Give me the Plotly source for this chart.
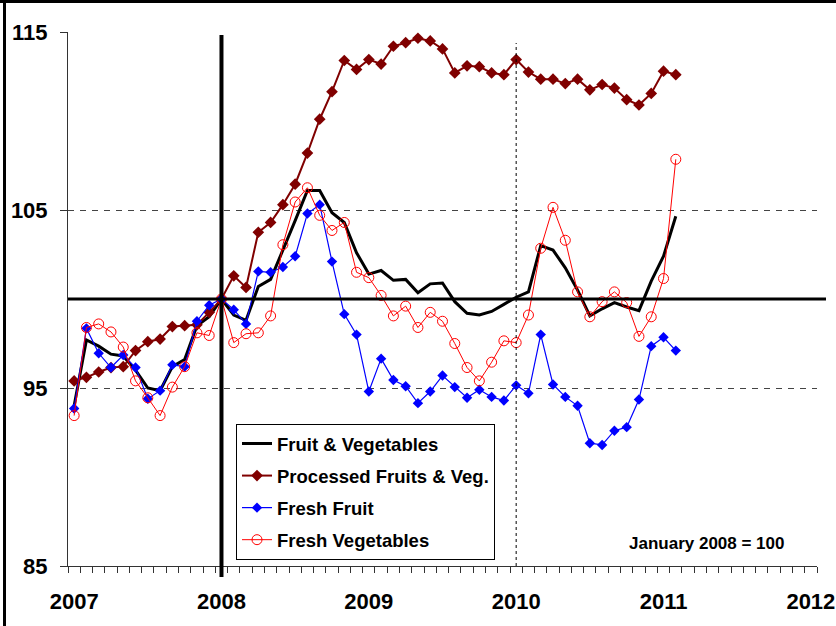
import plotly.graph_objects as go
import numpy as np

# ---- data (monthly, Jan 2007 .. Feb 2011; January 2008 = 100) ----
start_year = 2007
fruit_veg = [94.0, 97.7, 97.35, 96.9, 96.8, 96.0, 95.0, 94.85, 96.2, 96.6, 98.5, 99.0,
             100.0, 99.1, 98.8, 100.7, 101.1, 102.7, 104.4, 106.1, 106.1, 104.85, 104.3, 102.6,
             101.4, 101.6, 101.05, 101.1, 100.35, 100.85, 100.9, 99.85, 99.2, 99.1, 99.3, 99.7,
             100.1, 100.4, 103.0, 102.75, 101.75, 100.5, 99.05, 99.45, 99.8, 99.55, 99.35, 101.0,
             102.4, 104.65]
processed = [95.4, 95.6, 95.9, 96.15, 96.2, 97.1, 97.6, 97.75, 98.45, 98.5, 98.55, 99.25,
             100.0, 101.3, 100.65, 103.75, 104.3, 105.3, 106.45, 108.2, 110.1, 111.65, 113.4, 112.9,
             113.45, 113.2, 114.2, 114.4, 114.65, 114.5, 114.05, 112.7, 113.1, 113.05, 112.7, 112.6,
             113.45, 112.75, 112.35, 112.35, 112.1, 112.35, 111.75, 112.05, 111.85, 111.2, 110.9, 111.55,
             112.8, 112.6]
fresh_fruit = [93.85, 98.35, 96.95, 96.15, 96.85, 96.15, 94.4, 94.85, 96.3, 96.2, 98.75, 99.65,
               100.0, 99.4, 98.6, 101.55, 101.5, 101.8, 102.4, 104.8, 105.3, 102.1, 99.15, 98.0,
               94.8, 96.65, 95.45, 95.1, 94.15, 94.8, 95.7, 95.05, 94.45, 94.9, 94.5, 94.3,
               95.15, 94.7, 98.0, 95.2, 94.5, 94.0, 91.9, 91.8, 92.6, 92.8, 94.35, 97.35,
               97.85, 97.1]
fresh_veg = [93.45, 98.4, 98.6, 98.15, 97.3, 95.4, 94.45, 93.45, 95.05, 96.2, 98.1, 97.95,
             100.0, 97.55, 98.05, 98.1, 99.05, 103.05, 105.45, 106.25, 104.7, 103.85, 104.3, 101.5,
             101.2, 100.2, 99.05, 99.6, 98.4, 99.25, 98.75, 97.5, 96.15, 95.4, 96.45, 97.65,
             97.55, 99.1, 102.85, 105.15, 103.3, 100.4, 99.0, 99.85, 100.4, 99.8, 97.9, 99.0,
             101.15, 107.85]
year_ticks = [2007, 2008, 2009, 2010, 2011, 2012]
y_ticks = [85, 95, 105, 115]

x = [start_year + i / 12 for i in range(len(fruit_veg))]

W, H = 836, 626
ML, MR, MT, MB = 68, 19, 32, 60
PW, PH = W - ML - MR, H - MT - MB


def pxx(px):
    return (px - ML) / PW


def pxy(py):
    return (H - MB - py) / PH


FONT = "Liberation Sans, Arial, sans-serif"

fig = go.Figure()
fig.add_trace(go.Scatter(x=x, y=fruit_veg, mode="lines", name="Fruit & Vegetables",
                         line=dict(color="black", width=3), legendgroup="a"))
fig.add_trace(go.Scatter(x=x, y=processed, mode="lines+markers", name="Processed Fruits & Veg.",
                         line=dict(color="#800000", width=2),
                         marker=dict(symbol="diamond", size=9, color="#800000"), legendgroup="b"))
fig.add_trace(go.Scatter(x=x, y=fresh_fruit, mode="lines+markers", name="Fresh Fruit",
                         line=dict(color="#0000FF", width=1.2),
                         marker=dict(symbol="diamond", size=8, color="#0000FF"), legendgroup="c"))
fig.add_trace(go.Scatter(x=x, y=fresh_veg, mode="lines+markers", name="Fresh Vegetables",
                         line=dict(color="#FF0000", width=1),
                         marker=dict(symbol="circle-open", size=10, color="#FF0000",
                                     line=dict(width=1, color="#FF0000")), legendgroup="d"))

half = 0.5 / 12
minor_vals = list(np.arange(61 + 1) / 12 + 2007 - half)

fig.update_xaxes(range=[2007 - half, 2012 + half], tickmode="array", tickvals=year_ticks,
                 ticktext=[str(v) for v in year_ticks], ticks="", showgrid=False, zeroline=False,
                 showline=True, linecolor="#333", linewidth=1, automargin=False,
                 tickfont=dict(family=FONT, size=22, color="black", weight="bold"),
                 ticklabelstandoff=16,
                 minor=dict(tickmode="array", tickvals=minor_vals, ticks="outside", ticklen=6,
                            tickcolor="#333", tickwidth=1, showgrid=False))
fig.update_yaxes(range=[85, 115], tickmode="array", tickvals=y_ticks, ticks="outside", ticklen=7,
                 tickcolor="#333", showline=True, linecolor="#333", linewidth=1, zeroline=False,
                 showgrid=True, gridcolor="#444", griddash="6px,6px", gridwidth=1.4,
                 automargin=False,
                 tickfont=dict(family=FONT, size=22, color="black", weight="bold"),
                 ticklabelstandoff=8)

shapes = [
    # horizontal reference line at 100
    dict(type="line", xref="paper", yref="y", x0=0, x1=pxx(826), y0=100, y1=100,
         line=dict(color="black", width=3)),
    # thick vertical at 2008
    dict(type="line", xref="x", yref="paper", x0=2008, x1=2008, y0=pxy(577), y1=pxy(35),
         line=dict(color="black", width=4)),
    # dotted vertical at 2010
    dict(type="line", xref="x", yref="paper", x0=2010, x1=2010, y0=0, y1=pxy(43),
         line=dict(color="black", width=1, dash="dot")),
    # outer frame (top and left edges)
    dict(type="line", xref="paper", yref="paper", x0=pxx(0), x1=pxx(W), y0=pxy(1.5), y1=pxy(1.5),
         line=dict(color="black", width=3)),
    dict(type="line", xref="paper", yref="paper", x0=pxx(4.5), x1=pxx(4.5), y0=pxy(0), y1=pxy(H),
         line=dict(color="black", width=3)),
]

fig.update_layout(
    width=W, height=H, margin=dict(l=ML, r=MR, t=MT, b=MB, autoexpand=False),
    plot_bgcolor="white", paper_bgcolor="white",
    shapes=shapes,
    legend=dict(x=pxx(236), y=pxy(424), xanchor="left", yanchor="top",
                bgcolor="white", bordercolor="black", borderwidth=1,
                font=dict(family=FONT, size=18.5, color="black", weight="bold"),
                tracegroupgap=5, itemwidth=30),
    annotations=[dict(text="January 2008 = 100", xref="paper", yref="paper",
                      x=pxx(706), y=pxy(543), xanchor="center", yanchor="middle",
                      showarrow=False,
                      font=dict(family=FONT, size=17, color="black", weight="bold"))],
)

fig.write_html("out.html", config={"displayModeBar": False},
               post_script="document.body.style.margin='0';")
